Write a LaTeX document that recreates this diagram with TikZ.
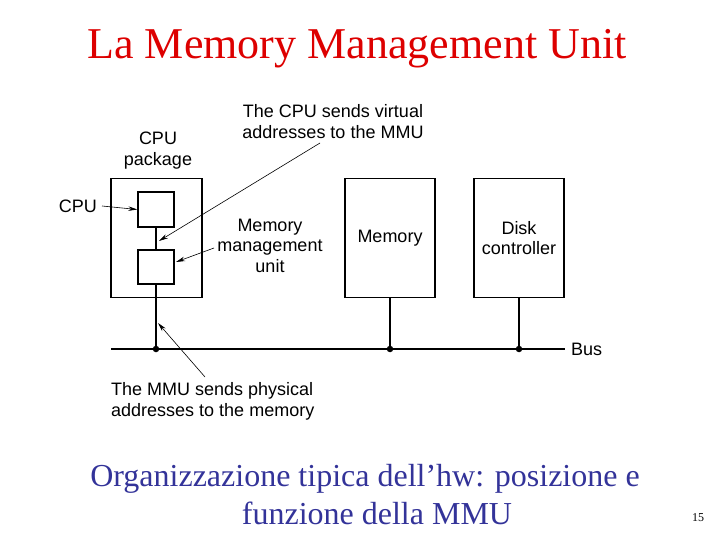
\documentclass[tikz,border=0pt]{standalone}
\usepackage{fontspec}
\setmainfont{Liberation Serif}
\newfontfamily\diagfont{Liberation Sans}
\usetikzlibrary{arrows.meta}
\definecolor{titlered}{RGB}{221,0,0}
\definecolor{capblue}{RGB}{51,51,153}
\begin{document}
\begin{tikzpicture}[x=1pt,y=-1pt,
  box/.style={draw,line width=1.4pt,inner sep=0pt},
  lab/.style={font=\diagfont\fontsize{18}{20.5}\selectfont,align=center,inner sep=0pt},
  caption/.style={text=capblue,font=\fontsize{32}{38}\selectfont,inner sep=0pt,anchor=base},
  wire/.style={line width=1.4pt},
  pointer/.style={line width=0.6pt,-{Stealth[length=9pt,width=4.5pt]}},
  dot/.style={circle,fill,inner sep=0pt,minimum size=6.5pt}]
\useasboundingbox (0,0) rectangle (720,540);
% title and caption
\node[text=titlered,font=\fontsize{44}{50}\selectfont,inner sep=0pt] (title) at (357,49) {La Memory Management Unit};
\node[caption] (cap1) at (365,486) {Organizzazione tipica dell’hw: posizione e};
\node[caption] (cap2) at (377,524) {funzione della MMU};
\node[font=\fontsize{12}{14}\selectfont,inner sep=0pt] (pg) at (698,518) {15};
% boxes
\node[box,minimum width=91pt,minimum height=119pt] (pkg) at (156.5,238) {};
\node[box,minimum width=36pt,minimum height=35pt] (cpu) at (156,209.5) {};
\node[box,minimum width=36pt,minimum height=34pt] (mmu) at (156,267) {};
\node[box,minimum width=90pt,minimum height=119pt,lab] (mem) at (390,238) {Memory};
\node[box,minimum width=90pt,minimum height=119pt,lab] (disk) at (519,238) {Disk\\controller};
% bus
\coordinate (busL) at (111,349);
\coordinate (busR) at (565,349);
\node[dot] (d1) at (156,349) {};
\node[dot] (d2) at (390,349) {};
\node[dot] (d3) at (519,349) {};
\draw[wire] (busL) -- (busR);
\node[lab,anchor=west] (bus) at (571,349) {Bus};
\draw[wire] (cpu.south) -- (mmu.north);
\draw[wire] (mmu.south) -- (d1.center);
\draw[wire] (mem.south) -- (d2.center);
\draw[wire] (disk.south) -- (d3.center);
% labels
\node[lab] (pkglab) at (158,150.5) {CPU\\package};
\node[lab,anchor=east] (cpulab) at (97,206) {CPU};
\node[lab] (virt) at (333,121.5) {The CPU sends virtual\\addresses to the MMU};
\node[lab] (mmulab) at (270,245.5) {Memory\\management\\unit};
\node[lab,align=left,anchor=west] (phys) at (111,401.5) {The MMU sends physical\\addresses to the memory};
% pointers
\coordinate (virtS) at (320,143);
\coordinate (virtE) at (159,241);
\coordinate (mmuS) at (214,248);
\coordinate (mmuE) at (176,262);
\coordinate (physS) at (205,377);
\coordinate (physE) at (158,323);
\coordinate (cpuS) at (102,206);
\draw[pointer] (virtS) -- (virtE);
\draw[pointer] (mmuS) -- (mmuE);
\draw[pointer] (physS) -- (physE);
\draw[pointer] (cpuS) -- (cpu.west);
\end{tikzpicture}
\end{document}
